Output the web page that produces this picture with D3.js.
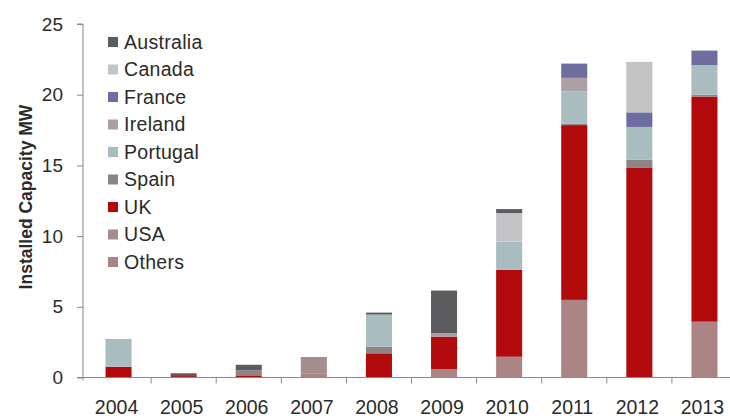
<!DOCTYPE html>
<html>
<head>
<meta charset="utf-8">
<script src="https://cdn.jsdelivr.net/npm/d3@7"></script>
<style>
  html, body { margin: 0; padding: 0; background: #fff; }
  svg { display: block; font-family: "Liberation Sans", Arial, sans-serif; }
</style>
</head>
<body>
<svg id="chart" width="730" height="419"></svg>
<script>
// Installed capacity (MW) by country, 2004-2013
const years = ["2004", "2005", "2006", "2007", "2008", "2009", "2010", "2011", "2012", "2013"];
const countries = ["Australia", "Canada", "France", "Ireland", "Portugal", "Spain", "UK", "USA", "Others"];

const Australia = [0,    0.2,  0.4,  0,    0.14, 3.02, 0.28, 0,     0,     0];
const Canada    = [0,    0,    0,    0,    0,    0,    2.01, 0,     3.57,  0];
const France    = [0,    0,    0,    0,    0,    0,    0,    1.01,  1.03,  1.02];
const Ireland   = [0,    0,    0,    0,    0,    0.24, 0,    0.95,  0,     0];
const Portugal  = [1.97, 0,    0,    0,    2.27, 0,    2.01, 2.29,  2.32,  2.1];
const Spain     = [0,    0,    0.35, 0,    0.47, 0,    0,    0.1,   0.58,  0.13];
const UK        = [0.76, 0.1,  0.15, 0,    1.71, 2.29, 6.14, 12.36, 14.82, 15.92];
const USA       = [0,    0,    0,    1.15, 0,    0,    0,    0,     0,     0];
const Others    = [0,    0,    0,    0.3,  0,    0.6,  1.47, 5.49,  0,     3.95];

const yTicks = [0, 5, 10, 15, 20, 25];

// stacks run bottom-to-top in the reverse of the legend order
const stackOrder = countries.slice().reverse();

const seriesValues = { Australia, Canada, France, Ireland, Portugal, Spain, UK, USA, Others };
const colors = {
  Australia: "#5c5c5e",
  Canada:    "#c4c4c6",
  France:    "#6e6e9e",
  Ireland:   "#ad9fa3",
  Portugal:  "#a9bcc0",
  Spain:     "#8e8486",
  UK:        "#b20a0c",
  USA:       "#a58c8e",
  Others:    "#ab8486"
};

const rows = years.map((yr, i) => {
  const r = { year: yr };
  countries.forEach(c => { r[c] = seriesValues[c][i]; });
  return r;
});

const svg = d3.select("#chart");
const axisX = 83, baseY = 377.5, topY = 24;
const textColor = "#2a2a2a";

const x = d3.scaleBand().domain(years).range([86, 737]);
const y = d3.scaleLinear().domain([0, 25]).range([baseY, topY]);

const stacked = d3.stack().keys(stackOrder)(rows);
const barW = x.bandwidth() * 0.4;

svg.append("g")
  .selectAll("g")
  .data(stacked)
  .join("g")
  .attr("fill", d => colors[d.key])
  .selectAll("rect")
  .data(d => d)
  .join("rect")
  .attr("x", d => x(d.data.year) + (x.bandwidth() - barW) / 2)
  .attr("width", barW)
  .attr("y", d => y(d[1]))
  .attr("height", d => y(d[0]) - y(d[1]));

// y axis
const yAxis = svg.append("g")
  .attr("transform", `translate(${axisX},0)`)
  .call(d3.axisLeft(y).tickValues(yTicks).tickSize(6).tickPadding(14));
yAxis.select(".domain").attr("stroke", "#8a8a8a").attr("d", `M-6,${topY}H0V${baseY + 3}`);
yAxis.selectAll(".tick line").attr("stroke", "#8a8a8a");
yAxis.selectAll(".tick text")
  .attr("fill", textColor)
  .style("font-size", "19px");

// x axis
const xAxisG = svg.append("g").attr("transform", `translate(0,${baseY})`);
xAxisG.append("line")
  .attr("x1", axisX - 6).attr("x2", 737)
  .attr("stroke", "#8a8a8a");
xAxisG.selectAll("line.tick")
  .data(years.slice(1))
  .join("line")
  .attr("class", "tick")
  .attr("x1", d => x(d)).attr("x2", d => x(d))
  .attr("y1", 0).attr("y2", 6)
  .attr("stroke", "#8a8a8a");
xAxisG.selectAll("text")
  .data(years)
  .join("text")
  .attr("x", d => x(d) + x.bandwidth() / 2 - 2)
  .attr("y", 36.5)
  .attr("text-anchor", "middle")
  .attr("fill", textColor)
  .style("font-size", "19.5px")
  .text(d => d);

// y axis title
svg.append("text")
  .attr("transform", "translate(32,197) rotate(-90)")
  .attr("text-anchor", "middle")
  .attr("fill", textColor)
  .style("font-size", "17.5px")
  .style("font-weight", "bold")
  .text("Installed Capacity MW");

// legend
const legend = svg.append("g")
  .selectAll("g")
  .data(countries)
  .join("g")
  .attr("transform", (d, i) => `translate(108,${42 + i * 27.5})`);
legend.append("rect")
  .attr("x", 0).attr("y", -5)
  .attr("width", 10).attr("height", 10)
  .attr("fill", d => colors[d]);
legend.append("text")
  .attr("x", 16).attr("y", 6.5)
  .attr("fill", textColor)
  .style("font-size", "19.5px")
  .style("letter-spacing", "0.3px")
  .text(d => d);
</script>
</body>
</html>
